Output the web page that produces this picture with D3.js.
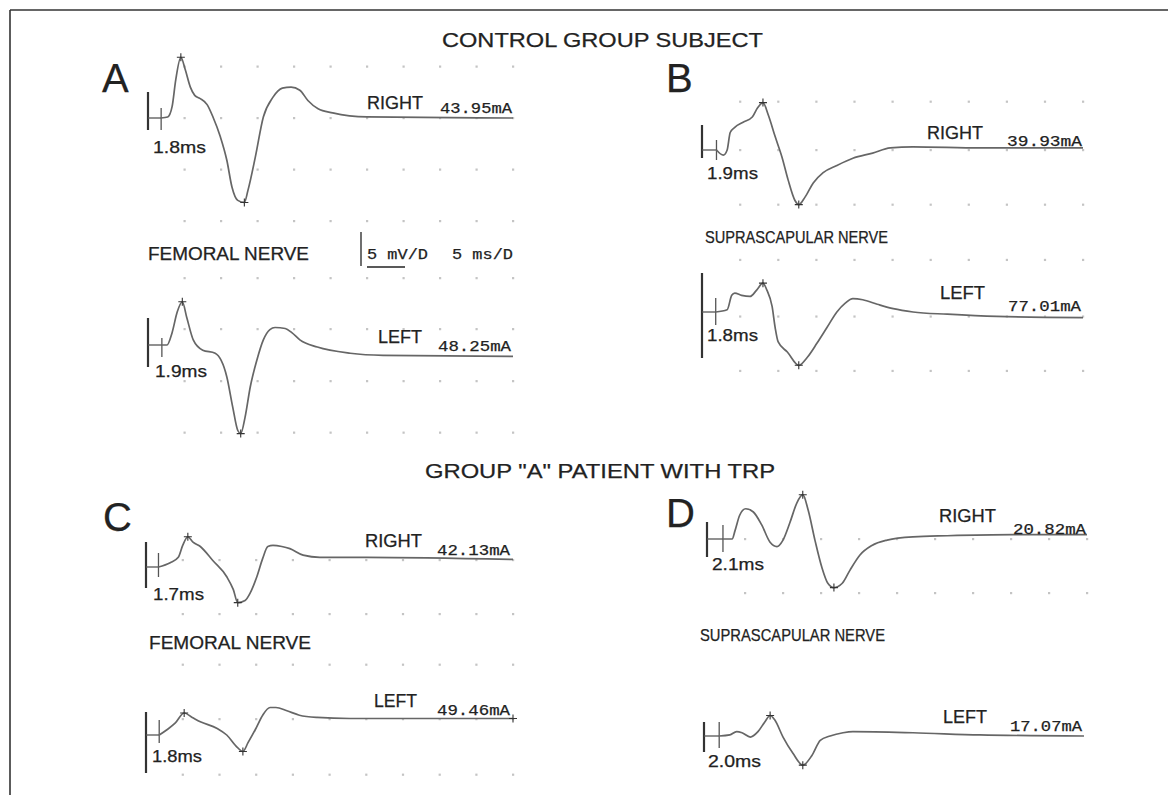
<!DOCTYPE html>
<html>
<head>
<meta charset="utf-8">
<script src="https://cdn.jsdelivr.net/npm/d3@7"></script>
<style>
  html, body { margin: 0; padding: 0; background: #fff; }
  svg { display: block; }
</style>
</head>
<body>
<svg id="chart" width="1168" height="795"></svg>
<script>
// ---- data (time in ms after stimulus, amplitude in mV relative to baseline) ----
const panelLetters = ["A", "B", "C", "D"];
const sideLabels = ["RIGHT", "LEFT", "RIGHT", "LEFT", "RIGHT", "LEFT", "RIGHT", "LEFT"];
const currents = ["43.95mA", "48.25mA", "39.93mA", "77.01mA", "42.13mA", "49.46mA", "20.82mA", "17.07mA"];
const latencies = [1.8, 1.9, 1.9, 1.8, 1.7, 1.8, 2.1, 2.0];
const nerveLabels = ["FEMORAL NERVE", "SUPRASCAPULAR NERVE", "FEMORAL NERVE", "SUPRASCAPULAR NERVE"];
const groupTitles = ["CONTROL GROUP SUBJECT", "GROUP \"A\" PATIENT WITH TRP"];
const scaleLabels = ["5 mV/D", "5 ms/D"];
const gridMs = d3.range(5, 51, 5);

const femoralRightCtrl = [[1.8,0],[2.7,0.1],[3.3,1.1],[3.8,3.7],[4.5,5.9],[5.1,4.7],[5.8,3.0],[6.4,2.2],[7.1,1.9],[8.1,1.3],[8.9,0.1],[9.9,-1.8],[10.8,-4.1],[11.5,-6.7],[12.3,-8.0],[13.2,-8.2],[13.7,-7.0],[14.7,-3.8],[15.8,0.1],[17.1,2.0],[18.4,2.9],[19.6,3.0],[20.8,2.7],[21.9,1.7],[23.3,0.9],[25.3,0.5],[30.0,0.1],[50,0]];
const femoralLeftCtrl = [[1.9,0],[2.6,0],[3.3,1.2],[4.0,3.2],[4.7,4.2],[5.3,2.7],[6.2,0.5],[7.5,-0.5],[9.2,-0.8],[10.8,-3.1],[11.6,-6.0],[12.3,-8.3],[12.7,-8.6],[13.3,-7.0],[14.0,-4.1],[14.9,-1.5],[15.8,0.5],[16.7,1.5],[17.4,1.7],[18.8,1.6],[19.7,1.2],[20.8,0.5],[23.2,-0.2],[27.7,-0.8],[32.2,-1.0],[50,-1.1]];
const supraRightCtrl = [[1.9,0],[2.8,-0.5],[3.3,0],[3.7,1.7],[4.3,2.2],[5.4,2.7],[6.6,3.2],[7.3,4.1],[8.0,4.6],[8.7,3.4],[9.6,1.3],[10.5,-0.7],[11.3,-2.9],[12.2,-4.9],[12.7,-5.3],[13.5,-4.6],[14.6,-3.2],[15.9,-2.2],[17.7,-1.5],[19.8,-0.8],[22.4,-0.3],[24.7,0.2],[27.7,0.3],[36.5,0.2],[50,0.2]];
const supraLeftCtrl = [[1.8,0],[3.3,0.2],[3.9,1.5],[4.3,1.7],[5.2,1.5],[6.3,1.4],[7.2,2.0],[8.0,2.6],[8.5,2.0],[9.2,0.5],[9.6,-1.4],[10.0,-2.7],[11.2,-3.6],[12.7,-4.8],[13.8,-4.1],[15.1,-2.8],[16.4,-1.4],[17.7,0],[18.8,0.8],[19.8,1.2],[21.1,1.1],[23.0,0.7],[25.1,0.3],[27.7,0],[32.2,-0.2],[38.7,-0.4],[50,-0.5]];
const femoralRightTrp = [[1.7,0],[3.3,0.4],[4.4,0.9],[5.0,2.0],[5.7,2.8],[6.4,2.3],[7.4,1.9],[9.1,0.6],[11.0,-0.9],[11.9,-2.1],[12.5,-3.3],[13.5,-3.1],[14.2,-2.4],[15.1,-0.9],[15.9,0.8],[16.6,1.9],[17.3,2.0],[18.5,1.9],[19.6,1.7],[21.4,1.1],[23.7,0.9],[30.1,0.9],[50,0.7]];
const femoralLeftTrp = [[1.8,0],[2.9,0.5],[4.0,1.1],[5.2,2.0],[6.3,1.6],[7.4,1.2],[9.7,0.6],[11.0,0],[12.4,-1.1],[13.2,-1.5],[13.9,-0.7],[14.9,0.5],[15.9,1.8],[16.9,2.5],[17.7,2.5],[19.2,2.2],[20.9,1.8],[23.3,1.6],[27.8,1.5],[50,1.5]];
const supraRightTrp = [[2.1,0],[3.3,0],[3.7,0.8],[4.3,2.2],[5.1,2.8],[6.1,2.5],[7.2,1.3],[8.3,-0.3],[9.2,-0.7],[10.0,-0.1],[10.9,1.5],[11.8,3.3],[12.6,4.1],[13.3,2.7],[14.2,-0.1],[15.1,-2.6],[15.9,-4.1],[16.7,-4.5],[17.8,-4.1],[18.8,-2.9],[20.1,-1.5],[21.7,-0.6],[23.7,-0.1],[27.1,0.2],[31.6,0.3],[40.3,0.4],[50,0.4]];
const supraLeftTrp = [[2.0,0],[3.4,0.1],[4.3,0.4],[5.0,0.3],[6.1,-0.1],[7.1,0.4],[8.0,1.3],[8.7,1.9],[9.3,1.5],[10.4,-0.1],[11.7,-1.6],[13.0,-2.7],[14.2,-1.8],[15.3,-0.4],[16.6,0],[18.3,0.3],[19.6,0.4],[27.5,0.3],[36.3,0.1],[50,0]];

const traces = [femoralRightCtrl, femoralLeftCtrl, supraRightCtrl, supraLeftCtrl,
                femoralRightTrp, femoralLeftTrp, supraRightTrp, supraLeftTrp];

// "+" cursors placed by the machine on peaks / troughs
const cursorMarks = [
  [[4.5,5.9],[13.2,-8.2]],
  [[4.7,4.2],[12.7,-8.6]],
  [[8.0,4.6],[12.7,-5.3]],
  [[8.0,2.6],[12.7,-4.8]],
  [[5.7,2.8],[12.5,-3.3]],
  [[5.2,2.0],[13.2,-1.5],[50,1.5]],
  [[12.6,4.1],[16.7,-4.5]],
  [[8.7,1.9],[13.0,-2.7]]
];

// grid rows (mV) as they fall relative to each trace baseline
const gridMv = [[5,0,-5,-10],[6.5,1.55,-3.5,-8.5],[4.7,0,-5.3],[4.7,-0.4,-5.3],
                [0.65,-4.35],[6.4,1.45,-3.6],[0,-5],[]];

// ---- layout ----
const layout = [
  {x0:148,y0:118,kx:7.3, ky:10.3,bar:[-26,12],tick:[-10,12],side:[367,109,56],cur:[440,113,72],lat:[153,153,53]},
  {x0:148,y0:345,kx:7.3, ky:10.3,bar:[-27,22],tick:[-7,12], side:[378,343,44],cur:[438,351,73],lat:[155,377,52]},
  {x0:702,y0:150,kx:7.62,ky:10.3,bar:[-25,8], tick:[-10,10],side:[927,139,56],cur:[1007,146,75],lat:[707,179,51]},
  {x0:702,y0:312,kx:7.62,ky:11.1,bar:[-39,46],tick:[-14,13],side:[940,299,45],cur:[1008,311,73],lat:[707,341,51]},
  {x0:146,y0:567,kx:7.34,ky:10.8,bar:[-25,21],tick:[-14,10],side:[365,547,57],cur:[437,555,73],lat:[153,600,51]},
  {x0:146,y0:735,kx:7.34,ky:11.0,bar:[-23,38],tick:[-15,8], side:[374,707,43],cur:[437,715,73],lat:[152,762,50]},
  {x0:707,y0:539,kx:7.6, ky:10.8,bar:[-17,18],tick:[-14,13],side:[939,522,57],cur:[1013,534,73],lat:[712,570,52]},
  {x0:704,y0:736,kx:7.6, ky:10.8,bar:[-14,16],tick:[-14,12],side:[943,723,44],cur:[1010,731,72],lat:[708,767,53]}
];
const letterPos = [[102,92],[666,92],[103,531],[666,527]];
const nervePos = [[148,260,161,18],[705,243,183,16.5],[149,649,162,18],[700,641,185,16.5]];
const titlePos = [[442,47,321],[425,478,350]];

const SANS = "'Liberation Sans', Arial, Helvetica, sans-serif";
const MONO = "'Liberation Mono', 'DejaVu Sans Mono', monospace";
const INK = "#222";
const TRACE = "#666";

const svg = d3.select("#chart");

// frame (top + left edges of the cropped figure box)
svg.append("line").attr("x1", 10).attr("y1", 10).attr("x2", 1168).attr("y2", 10)
  .attr("stroke", "#333").attr("stroke-width", 1.6);
svg.append("line").attr("x1", 10).attr("y1", 10).attr("x2", 10).attr("y2", 795)
  .attr("stroke", "#333").attr("stroke-width", 1.6);

function addText(x, y, str, size, family, width) {
  const t = svg.append("text")
    .attr("x", x).attr("y", y)
    .attr("font-family", family)
    .attr("font-size", size)
    .attr("fill", INK)
    .attr("stroke", INK)
    .attr("stroke-width", 0.25)
    .text(str);
  if (width) t.attr("textLength", width).attr("lengthAdjust", "spacingAndGlyphs");
  return t;
}

groupTitles.forEach((s, i) => addText(titlePos[i][0], titlePos[i][1], s, 21, SANS, titlePos[i][2]));
panelLetters.forEach((s, i) => addText(letterPos[i][0], letterPos[i][1], s, 40, SANS));
nerveLabels.forEach((s, i) => addText(nervePos[i][0], nervePos[i][1], s, nervePos[i][3], SANS, nervePos[i][2]));

// calibration mark in panel A
svg.append("line").attr("x1", 361).attr("x2", 361).attr("y1", 232).attr("y2", 266)
  .attr("stroke", INK).attr("stroke-width", 1.3);
svg.append("line").attr("x1", 367).attr("x2", 405).attr("y1", 267).attr("y2", 267)
  .attr("stroke", INK).attr("stroke-width", 1.3);
addText(367, 259, scaleLabels[0], 15, MONO, 61);
addText(452, 259, scaleLabels[1], 15, MONO, 61);

traces.forEach((data, i) => {
  const L = layout[i];
  const x = d3.scaleLinear().domain([0, 50]).range([L.x0, L.x0 + 50 * L.kx]);
  const y = d3.scaleLinear().domain([0, 1]).range([L.y0, L.y0 - L.ky]);
  const g = svg.append("g");

  // dotted grid
  gridMv[i].forEach(mv => {
    g.selectAll(null).data(gridMs).join("rect")
      .attr("x", d => x(d) - 1).attr("y", y(mv) - 1)
      .attr("width", 2.2).attr("height", 2.2)
      .attr("fill", "#c4c4c4");
  });

  // stimulus marker and latency cursor
  const lat = latencies[i];
  g.append("line").attr("x1", x(0)).attr("x2", x(0))
    .attr("y1", L.y0 + L.bar[0]).attr("y2", L.y0 + L.bar[1])
    .attr("stroke", "#333").attr("stroke-width", 2.2);
  g.append("line").attr("x1", x(0)).attr("x2", x(lat))
    .attr("y1", y(0)).attr("y2", y(0))
    .attr("stroke", "#555").attr("stroke-width", 1.3);
  g.append("line").attr("x1", x(lat)).attr("x2", x(lat))
    .attr("y1", L.y0 + L.tick[0]).attr("y2", L.y0 + L.tick[1])
    .attr("stroke", "#555").attr("stroke-width", 1.3);

  // trace
  g.append("path")
    .datum(data)
    .attr("fill", "none")
    .attr("stroke", TRACE)
    .attr("stroke-width", 1.7)
    .attr("stroke-linejoin", "round")
    .attr("d", d3.line().curve(d3.curveMonotoneX)
      .x(d => x(d[0])).y(d => y(d[1])));

  // cursors
  cursorMarks[i].forEach(m => {
    const cx = x(m[0]), cy = y(m[1]);
    g.append("path")
      .attr("d", `M${cx - 4},${cy}H${cx + 4}M${cx},${cy - 4}V${cy + 4}`)
      .attr("stroke", "#333").attr("stroke-width", 1.1);
  });

  addText(L.side[0], L.side[1], sideLabels[i], 17.5, SANS, L.side[2]);
  addText(L.cur[0], L.cur[1], currents[i], 15, MONO, L.cur[2]);
  addText(L.lat[0], L.lat[1], lat.toFixed(1) + "ms", 16.5, SANS, L.lat[2]);
});
</script>
</body>
</html>
